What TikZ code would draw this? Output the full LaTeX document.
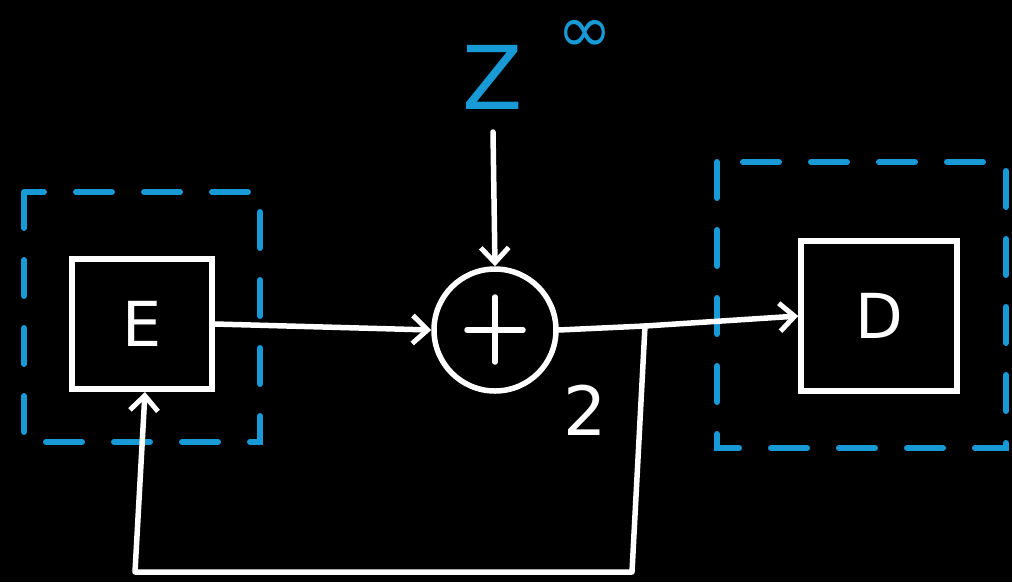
\documentclass[tikz,border=0pt]{standalone}
\usepackage{fontspec}
\setmainfont{DejaVu Sans}
\usetikzlibrary{arrows.meta}
\definecolor{hblue}{RGB}{24,154,214}
\tikzset{
  wline/.style={white, line width=5.5pt, line cap=round, line join=round},
  arr/.style={wline, -{Straight Barb[length=15pt,width=28pt,line width=5pt]}},
  blk/.style={draw=white, line width=5.5pt, fill=black, inner sep=0pt},
  dbox/.style={draw=hblue, line width=6pt, dash pattern=on 36pt off 32pt, line cap=round},
  lbl/.style={text=white, font=\fontsize{62}{62}\selectfont},
}
\begin{document}
\begin{tikzpicture}[x=1pt,y=-1pt]
\fill[black] (0,0) rectangle (1012,582);
\useasboundingbox (0,0) rectangle (1012,582);
% dashed groups
\draw[dbox] (24,192) rectangle (260,442);
\draw[dbox] (717,162) rectangle (1006,448);
% blocks
\node[blk, minimum width=140pt, minimum height=130pt] (E) at (142,324) {};
\node[lbl] at (E) {E};
\node[blk, minimum width=156pt, minimum height=150pt] (D) at (879,316) {};
\node[lbl] at (D) {D};
\node[circle, draw=white, line width=5.5pt, minimum size=122pt, inner sep=0pt] (S) at (495,330) {};
\draw[wline] ([xshift=-28pt]S.center) -- ([xshift=28pt]S.center);
\draw[wline] ([yshift=-32pt]S.center) -- ([yshift=33pt]S.center);
% input Z
\node[text=hblue, font=\fontsize{88}{88}\selectfont, inner sep=0pt] (Z) at (493,77) {Z};
\node[text=hblue, font=\fontsize{66}{66}\selectfont, inner sep=0pt, anchor=base] (inf) at (585,52) {∞};
\coordinate (ztop) at (493,132);
\draw[arr] (ztop) -- (S.north);
% connections
\draw[arr] (E.east) -- (S.west);
\coordinate (j) at (645,326);
\coordinate (jb) at (632,572);
\coordinate (lb) at (135,572);
\coordinate (eb) at (145,392);
\draw[wline] (S.east) -- (j);
\draw[arr] (j) -- (D.west);
\draw[arr] (j) -- (jb) -- (lb) -- (eb);
\node[text=white, font=\fontsize{68}{68}\selectfont] (lab) at (585,410) {2};
\end{tikzpicture}
\end{document}
